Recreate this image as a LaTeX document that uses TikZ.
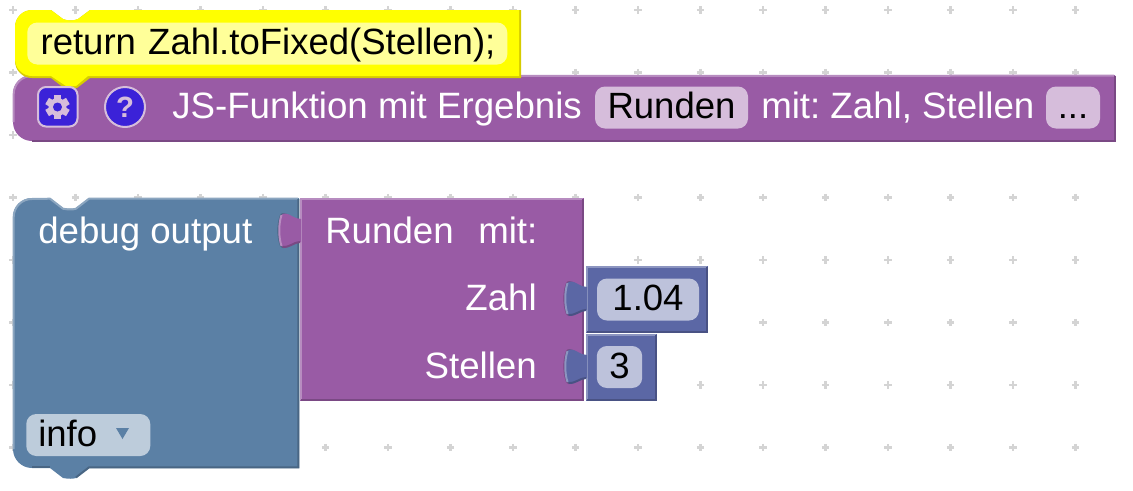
\documentclass[tikz,border=0pt]{standalone}
\usepackage{fontspec}
\setmainfont{Liberation Sans}
\definecolor{lila}{HTML}{995BA5}
\definecolor{lilahell}{HTML}{B78CC0}
\definecolor{lilados}{HTML}{7A4984}
\definecolor{lilafeld}{HTML}{D6BDDB}
\definecolor{blau}{HTML}{5B80A5}
\definecolor{blauhell}{HTML}{8CA6C0}
\definecolor{blaudos}{HTML}{496684}
\definecolor{blaufeld}{HTML}{BDCCDB}
\definecolor{zahlblau}{HTML}{5B67A5}
\definecolor{zahlhell}{HTML}{8C95C0}
\definecolor{zahldos}{HTML}{495284}
\definecolor{zahlfeld}{HTML}{BDC2DB}
\definecolor{gelb}{HTML}{FFFF00}
\definecolor{gelbdos}{HTML}{D6CC00}
\definecolor{creme}{HTML}{FFFF99}
\definecolor{knopf}{HTML}{3B22D8}
\tikzset{
  blocktext/.style={anchor=base west,inner sep=0pt,text=white,font=\fontsize{27.5}{32}\selectfont\frenchspacing},
  feldtext/.style={rounded corners=7.5pt,inner sep=0pt,text=black,minimum height=31.5pt,text height=19pt,text depth=2.5pt,font=\fontsize{27.4}{32}\selectfont\frenchspacing},
  gridplus/.style={draw=black!17,line width=1.8pt}
}
\newcommand{\PuzzleTab}[6]{
  \begin{scope}[shift={(#1,#2)}]
    \fill[#6] (-1.5,5) .. controls (-7.5,5) and (-11.5,-1) .. (-16.5,-1) .. controls (-18.5,-1) and (-19.5,0) .. (-20,1) .. controls (-23.5,10) and (-23.5,23) .. (-20,32) .. controls (-19.5,33) and (-18.5,34) .. (-16.5,34) .. controls (-11.5,34) and (-7.5,28) .. (-1.5,28) -- cycle;
    \fill[#3] (1,5) .. controls (-6,5) and (-10,-0.5) .. (-15,-0.5) .. controls (-17,-0.5) and (-18,0) .. (-18.5,1) .. controls (-21.5,10) and (-21.5,23) .. (-18.5,32) .. controls (-18,33) and (-17,33.5) .. (-15,33.5) .. controls (-10,33.5) and (-6,28) .. (1,28) -- cycle;
    \draw[#4,line width=1.5pt] (-18.5,1) .. controls (-21.5,10) and (-21.5,23) .. (-18.5,32);
    \draw[#5,line width=1.5pt] (-17.5,33) .. controls (-10,33.5) and (-6,28) .. (0,28);
  \end{scope}
}
\begin{document}
\begin{tikzpicture}[x=0.75pt,y=-0.75pt]
  \fill[white] (0,0) rectangle (1133,490);
  \useasboundingbox (0,0) rectangle (1133,490);
  \foreach \i in {0,...,17}
    \foreach \y in {10,72.5,135,197.5,260,322.5,385,447.5}
      \draw[gridplus] ({13+62.5*\i-3.7},\y) -- ({13+62.5*\i+3.7},\y) ({13+62.5*\i},\y-3.7) -- ({13+62.5*\i},\y+3.7);

  % function block
  \fill[lila] (13,94) arc[start angle=180,end angle=270,radius=19] -- (1115,75) -- (1115,141) -- (32,141) arc[start angle=90,end angle=180,radius=19] -- cycle;
  \draw[lilahell,line width=1.5pt] (13.7,122) -- (13.7,94) arc[start angle=180,end angle=270,radius=18] -- (1114,75.7);
  \draw[lilados,line width=1.5pt] (1114.5,76) -- (1114.5,140.5) -- (32,140.5);

  % comment bubble
  \fill[gelbdos] (15,27) arc[start angle=180,end angle=270,radius=17] -- (51,10) -- (63,19) .. controls (68,21) and (73,21) .. (78,19) -- (90,10) -- (521,10) -- (521,78) -- (90,78) -- (77,88) -- (64,88) -- (51,78) -- (32,78) arc[start angle=90,end angle=180,radius=17] -- cycle;
  \fill[gelb] (15,27) arc[start angle=180,end angle=270,radius=17] -- (51,10) -- (63,19) .. controls (68,21) and (73,21) .. (78,19) -- (90,10) -- (519,10) -- (519,76) -- (88,76) -- (76,86) -- (66,86) -- (51,76) -- (32,76) arc[start angle=90,end angle=180,radius=17] -- cycle;
  \node[feldtext,fill=creme,anchor=west,minimum width=360pt,text width=360pt,align=left] (code) at (27,43.5) {\hspace*{10pt}return Zahl.toFixed(Stellen);};

  % gear and help buttons
  \draw[fill=knopf,draw=lilafeld,line width=1.5pt,rounded corners=6pt] (38,87) rectangle (77.5,126.5);
  \foreach \w in {30,90,...,330}
    \draw[lilafeld,line width=5.5pt] (57.5,107) -- ++(\w:12);
  \fill[lilafeld] (57.5,107) circle[radius=9];
  \fill[knopf] (57.5,107) circle[radius=4.5];
  \node[circle,fill=knopf,draw=lilafeld,line width=1.5pt,minimum size=30pt,inner sep=0pt,text=lilafeld,font=\fontsize{22}{24}\bfseries\selectfont] (hilfe) at (125,107) {?};

  \node[blocktext] (jsfunktion) at (172,118.5) {JS-Funktion mit Ergebnis};
  \node[feldtext,fill=lilafeld,minimum width=114.75pt] (runden) at (671.5,107.5) {Runden};
  \node[blocktext] (mit) at (761,118.5) {mit: Zahl, Stellen};
  \node[feldtext,fill=lilafeld,minimum width=40.5pt] (punkte) at (1073,107.5) {...};

  % debug block
  \fill[blau] (13,217) arc[start angle=180,end angle=270,radius=19] -- (50,198) -- (63,208) .. controls (68,209) and (73,209) .. (76,208) -- (89,198) -- (299,198) -- (299,468) -- (89,468) -- (76,478) .. controls (73,479) and (68,479) .. (63,478) -- (50,468) -- (32,468) arc[start angle=90,end angle=180,radius=19] -- cycle;
  \draw[blauhell,line width=1.5pt] (13.7,449) -- (13.7,217) arc[start angle=180,end angle=270,radius=18] -- (50,198.7) -- (63,208.7) .. controls (68,209.7) and (73,209.7) .. (76,208.7) -- (89,198.7) -- (298,198.7);
  \draw[blaudos,line width=1.5pt] (298.4,199) -- (298.4,467.4) -- (89,467.4) -- (76,477.4);
  \draw[blaudos,line width=1.5pt] (50,467.4) -- (32,467.4);
  \node[blocktext] (debug) at (38,243) {debug output};
  \node[feldtext,fill=blaufeld,anchor=west,minimum width=93pt,text width=93pt,align=left] (info) at (26,435) {\hspace*{9pt}info};
  \fill[blau] (116,428) -- (129,428) -- (122.5,439) -- cycle;

  % Runden block
  \fill[lila] (300,198) rectangle (584,401);
  \draw[lilahell,line width=1.5pt] (300.7,400) -- (300.7,198.7) -- (583,198.7);
  \draw[lilados,line width=1.5pt] (583.4,199) -- (583.4,400.4) -- (301,400.4);
  \PuzzleTab{300}{214}{lila}{lilahell}{lilados}{blaudos}
  \node[blocktext] (rundenaufruf) at (325,243) {Runden};
  \node[blocktext] (mitzwei) at (478,243) {mit:};
  \node[blocktext,anchor=base east] (zahl) at (537,310) {Zahl};
  \node[blocktext,anchor=base east] (stellen) at (537,378) {Stellen};

  % number blocks
  \fill[zahlblau] (586,266) rectangle (708,333);
  \draw[zahlhell,line width=1.5pt] (586.7,332) -- (586.7,266.7) -- (707,266.7);
  \draw[zahldos,line width=1.5pt] (707.4,267) -- (707.4,332.4) -- (587,332.4);
  \PuzzleTab{586}{282}{zahlblau}{zahlhell}{zahldos}{lilados}
  \node[feldtext,fill=zahlfeld,minimum width=76.5pt] (wertzahl) at (648,299.5) {1.04};

  \fill[zahlblau] (586,334) rectangle (657,401);
  \draw[zahlhell,line width=1.5pt] (586.7,400) -- (586.7,334.7) -- (656,334.7);
  \draw[zahldos,line width=1.5pt] (656.4,335) -- (656.4,400.4) -- (587,400.4);
  \PuzzleTab{586}{350}{zahlblau}{zahlhell}{zahldos}{lilados}
  \node[feldtext,fill=zahlfeld,minimum width=34pt] (wertstellen) at (619.5,367) {3};
\end{tikzpicture}
\end{document}
